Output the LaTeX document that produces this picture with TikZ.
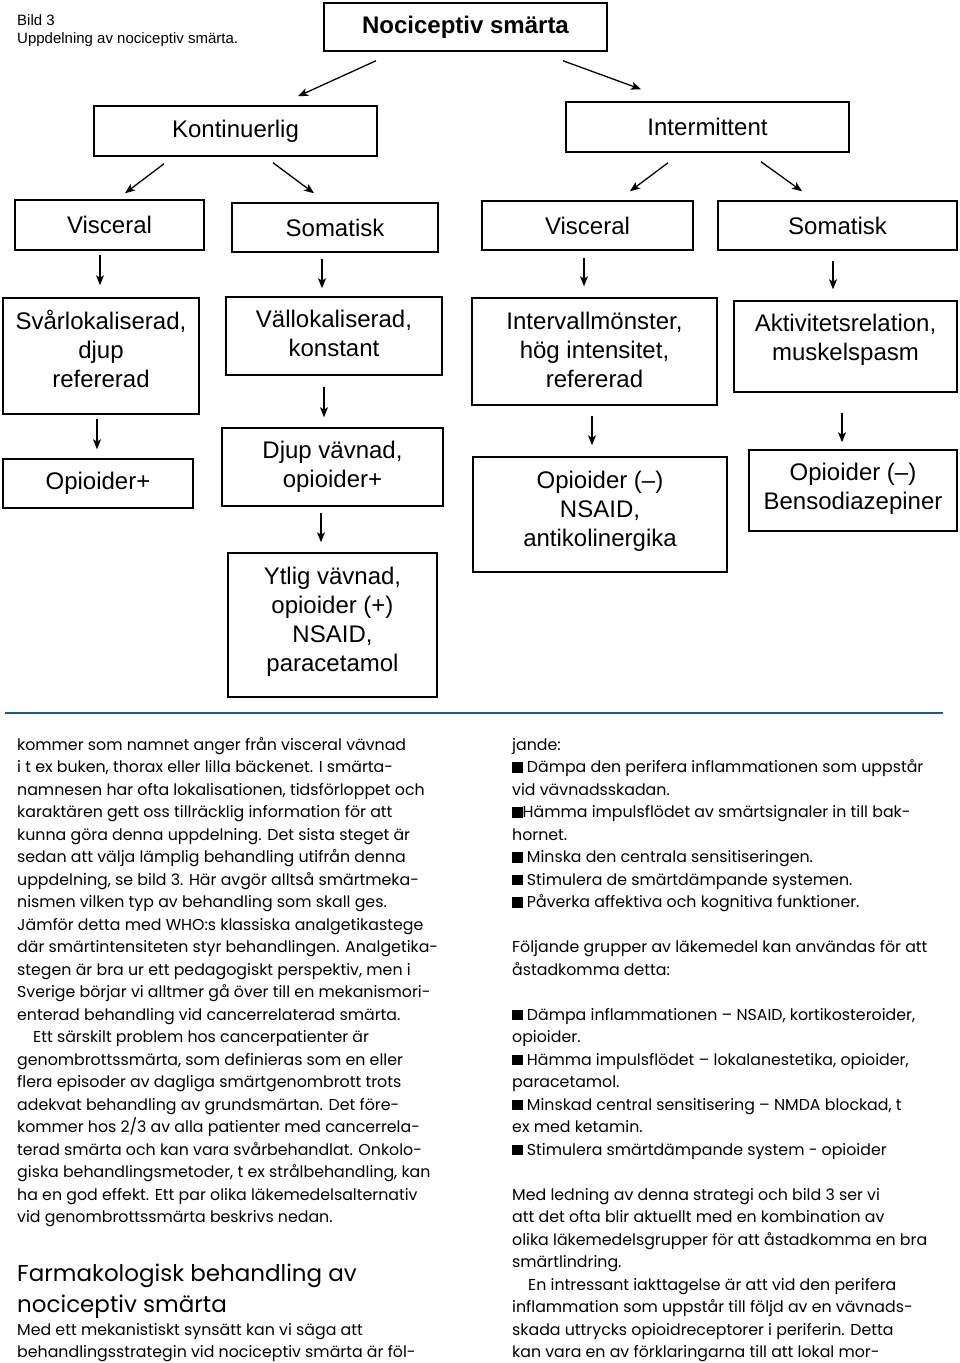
\documentclass[tikz,border=0pt]{standalone}
\usepackage{fontspec}
\setmainfont{Liberation Sans}
\newfontfamily\bodyfont{Poppins}
\usetikzlibrary{arrows.meta,calc}
\definecolor{rulecol}{HTML}{2B5592}
\newcommand\bsq{\rule{10.5pt}{10.5pt}}
\begin{document}
\begin{tikzpicture}[x=1pt,y=-1pt,
  box/.style={draw,line width=1.5pt,inner sep=0pt,align=center,
    font=\fontsize{24}{29}\selectfont},
  boxtext/.style={inner sep=0pt,align=center,font=\fontsize{24}{29}\selectfont},
  arr/.style={line width=1.3pt,-{Stealth[length=10pt,width=8pt,inset=2.5pt]}},
  bodyline/.style={anchor=base west,inner sep=0pt,font=\bodyfont\fontsize{15.8}{22}\selectfont},
  headline/.style={anchor=base west,inner sep=0pt,font=\bodyfont\fontsize{23}{28}\selectfont},
  capline/.style={anchor=base west,inner sep=0pt,font=\fontsize{15}{18}\selectfont}]
\useasboundingbox[fill=white] (0,0) rectangle (960,1363);

% caption
\node[capline] (cap1) at (17,25) {Bild 3};
\node[capline] (cap2) at (17,43) {Uppdelning av nociceptiv smärta.};

% boxes
\node[box,minimum width=283,minimum height=48,font=\bfseries\fontsize{24}{29}\selectfont] (title) at (465.5,27) {Nociceptiv smärta};
\node[box,minimum width=283,minimum height=50] (kont) at (235.5,131) {Kontinuerlig};
\node[box,minimum width=283,minimum height=50] (inter) at (707.5,127) {Intermittent};
\node[box,minimum width=189,minimum height=50] (visL) at (109.5,225) {Visceral};
\node[box,minimum width=206,minimum height=49] (somL) at (335,227.5) {Somatisk};
\node[box,minimum width=211,minimum height=49] (visR) at (587.5,225.5) {Visceral};
\node[box,minimum width=239,minimum height=49] (somR) at (837.5,225.5) {Somatisk};
\node[box,minimum width=190,minimum height=49] (opL) at (98,483.5) {Opioider+};

\node[box,minimum width=196,minimum height=116] (svar) at (101,356) {};
\node[boxtext] (svarT) at ($(svar.center)+(0,-7)$) {Svårlokaliserad,\\djup\\refererad};
\node[box,minimum width=216,minimum height=78] (vall) at (334,336) {};
\node[boxtext] (vallT) at ($(vall.center)+(0,-2.5)$) {Vällokaliserad,\\konstant};
\node[box,minimum width=245,minimum height=107] (interv) at (594.5,351.5) {};
\node[boxtext] (intervT) at ($(interv.center)+(0,-1.5)$) {Intervallmönster,\\hög intensitet,\\refererad};
\node[box,minimum width=223,minimum height=91] (aktiv) at (845.5,346.5) {};
\node[boxtext] (aktivT) at ($(aktiv.center)+(0,-7)$) {Aktivitetsrelation,\\muskelspasm};
\node[box,minimum width=221,minimum height=78] (djup) at (332.5,467) {};
\node[boxtext] (djupT) at (djup.center) {Djup vävnad,\\opioider+};
\node[box,minimum width=254,minimum height=115] (opN) at (600,514.5) {};
\node[boxtext] (opNT) at ($(opN.center)+(0,-3.5)$) {Opioider (–)\\NSAID,\\antikolinergika};
\node[box,minimum width=208,minimum height=81] (opB) at (853,490.5) {};
\node[boxtext] (opBT) at ($(opB.center)+(0,-2)$) {Opioider (–)\\Bensodiazepiner};
\node[box,minimum width=209,minimum height=144] (ytlig) at (332.5,625) {};
\node[boxtext] (ytligT) at ($(ytlig.center)+(0,-3.5)$) {Ytlig vävnad,\\opioider (+)\\NSAID,\\paracetamol};

% connectors
\draw[arr] ($(title.south)+(-89.5,9)$) -- ($(kont.north)+(62.5,-9)$);
\draw[arr] ($(title.south)+(97.5,9)$) -- ($(inter.north)+(-66.5,-12)$);
\draw[arr] ($(kont.south)+(-71.5,7)$) -- ($(visL.north)+(15.5,-6)$);
\draw[arr] ($(kont.south)+(37.5,6)$) -- ($(somL.north)+(-21,-9)$);
\draw[arr] ($(inter.south)+(-39.5,10)$) -- ($(visR.north)+(42.5,-9)$);
\draw[arr] ($(inter.south)+(53.5,9)$) -- ($(somR.north)+(-35.5,-9)$);
\draw[arr] ($(visL.south)+(-9.5,4)$) -- ($(svar.north)+(-1,-12)$);
\draw[arr] ($(somL.south)+(-13,6)$) -- ($(vall.north)+(-12,-8)$);
\draw[arr] ($(visR.south)+(-3.5,7)$) -- ($(interv.north)+(-10.5,-11)$);
\draw[arr] ($(somR.south)+(-4.5,10)$) -- ($(aktiv.north)+(-12.5,-11)$);
\draw[arr] ($(svar.south)+(-4,4)$) -- ($(opL.north)+(-1,-9)$);
\draw[arr] ($(vall.south)+(-10,11)$) -- ($(djup.north)+(-8.5,-10)$);
\draw[arr] ($(interv.south)+(-2.5,10)$) -- ($(opN.north)+(-8,-11)$);
\draw[arr] ($(aktiv.south)+(-3.5,20)$) -- ($(opB.north)+(-11,-7)$);
\draw[arr] ($(djup.south)+(-11.5,6)$) -- ($(ytlig.north)+(-11.5,-10)$);

% separator rule
\draw[rulecol,line width=2.6pt] (5,713) -- (943,713);

% left column
\foreach \t [count=\i] in {
{kommer som namnet anger från visceral vävnad},
{i t ex buken, thorax eller lilla bäckenet. I smärta-},
{namnesen har ofta lokalisationen, tidsförloppet och},
{karaktären gett oss tillräcklig information för att},
{kunna göra denna uppdelning. Det sista steget är},
{sedan att välja lämplig behandling utifrån denna},
{uppdelning, se bild 3. Här avgör alltså smärtmeka-},
{nismen vilken typ av behandling som skall ges.},
{Jämför detta med WHO:s klassiska analgetikastege},
{där smärtintensiteten styr behandlingen. Analgetika-},
{stegen är bra ur ett pedagogiskt perspektiv, men i},
{Sverige börjar vi alltmer gå över till en mekanismori-},
{enterad behandling vid cancerrelaterad smärta.},
{\hspace*{16pt}Ett särskilt problem hos cancerpatienter är},
{genombrottssmärta, som definieras som en eller},
{flera episoder av dagliga smärtgenombrott trots},
{adekvat behandling av grundsmärtan. Det före-},
{kommer hos 2/3 av alla patienter med cancerrela-},
{terad smärta och kan vara svårbehandlat. Onkolo-},
{giska behandlingsmetoder, t ex strålbehandling, kan},
{ha en god effekt. Ett par olika läkemedelsalternativ},
{vid genombrottssmärta beskrivs nedan.}}
  \node[bodyline] (L\i) at (17,{750+22.5*(\i-1)}) {\t};

\node[headline] (h1) at (17,1281) {Farmakologisk behandling av};
\node[headline] (h2) at (17,1312) {nociceptiv smärta};
\node[bodyline] (m1) at (17,1335) {Med ett mekanistiskt synsätt kan vi säga att};
\node[bodyline] (m2) at (17,1357) {behandlingsstrategin vid nociceptiv smärta är föl-};

% right column
\foreach \t/\r in {
{jande:}/1,
{\bsq\ Dämpa den perifera inflammationen som uppstår}/2,
{vid vävnadsskadan.}/3,
{\bsq Hämma impulsflödet av smärtsignaler in till bak-}/4,
{hornet.}/5,
{\bsq\ Minska den centrala sensitiseringen.}/6,
{\bsq\ Stimulera de smärtdämpande systemen.}/7,
{\bsq\ Påverka affektiva och kognitiva funktioner.}/8,
{Följande grupper av läkemedel kan användas för att}/10,
{åstadkomma detta:}/11,
{\bsq\ Dämpa inflammationen – NSAID, kortikosteroider,}/13,
{opioider.}/14,
{\bsq\ Hämma impulsflödet – lokalanestetika, opioider,}/15,
{paracetamol.}/16,
{\bsq\ Minskad central sensitisering – NMDA blockad, t}/17,
{ex med ketamin.}/18,
{\bsq\ Stimulera smärtdämpande system - opioider}/19,
{Med ledning av denna strategi och bild 3 ser vi}/21,
{att det ofta blir aktuellt med en kombination av}/22,
{olika läkemedelsgrupper för att åstadkomma en bra}/23,
{smärtlindring.}/24,
{\hspace*{16pt}En intressant iakttagelse är att vid den perifera}/25,
{inflammation som uppstår till följd av en vävnads-}/26,
{skada uttrycks opioidreceptorer i periferin. Detta}/27,
{kan vara en av förklaringarna till att lokal mor-}/28}
  \node[bodyline] (R\r) at (512,{750+22.5*(\r-1)}) {\t};
\end{tikzpicture}
\end{document}
